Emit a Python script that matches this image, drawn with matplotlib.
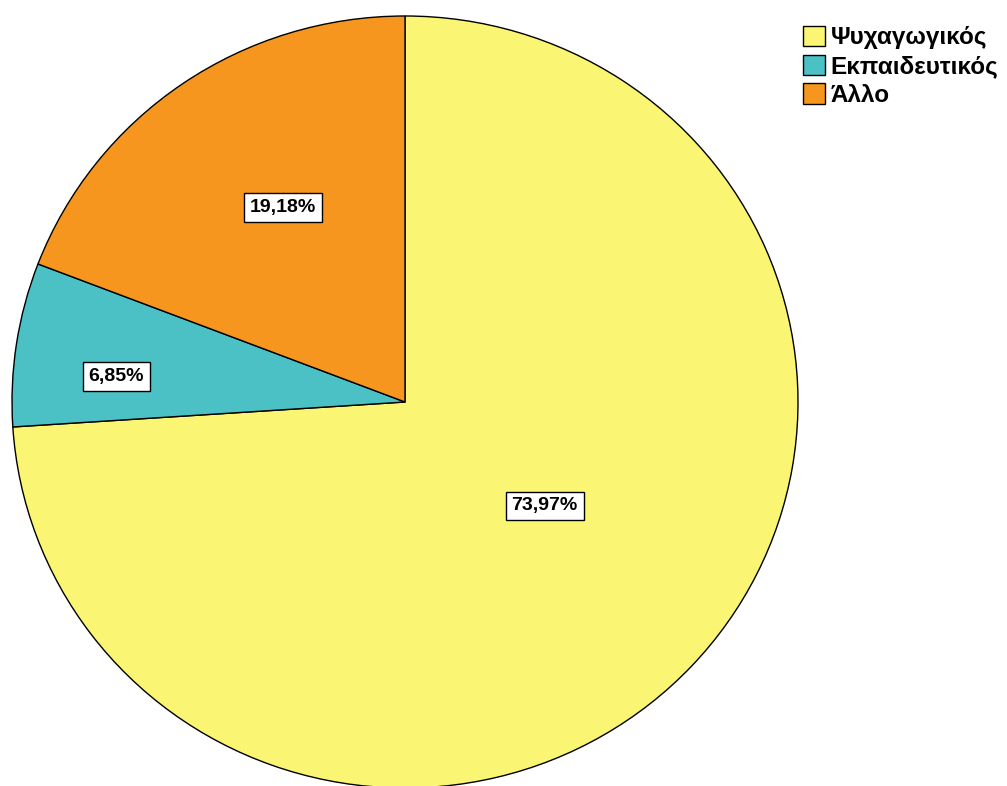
import matplotlib.pyplot as plt
import numpy as np

# categories and shares (%)
labels = ['Ψυχαγωγικός', 'Εκπαιδευτικός', 'Άλλο']
values = [73.97, 6.85, 19.18]
pct_text = ['73,97%', '6,85%', '19,18%']
colors = ['#FAF573', '#4BC0C5', '#F7961E']

# where the percent boxes sit: distance from centre and turn from the wedge middle (deg)
label_dist = [0.446, 0.738, 0.591]
label_turn = [6.0, 3.5, -2.9]

plt.rcParams['font.family'] = ['Liberation Sans', 'DejaVu Sans']

W, H = 1007, 786
fig = plt.figure(figsize=(W / 100, H / 100), dpi=100)
# pie slightly wider than tall, like the original
ax = fig.add_axes([12 / W, (H - 788) / H, 786 / W, 772 / H])

wedges, _ = ax.pie(values, colors=colors, startangle=90, counterclock=False,
                   wedgeprops=dict(edgecolor='black', linewidth=1.0))
ax.set_aspect('auto')
ax.set_xlim(-1, 1)
ax.set_ylim(-1, 1)
ax.axis('off')

# percent labels in white boxes
for w, txt, d, t in zip(wedges, pct_text, label_dist, label_turn):
    mid = np.deg2rad((w.theta1 + w.theta2) / 2 + t)
    ax.text(d * np.cos(mid), d * np.sin(mid), txt, ha='center', va='center',
            fontsize=14, fontweight='bold',
            bbox=dict(boxstyle='square,pad=0.3', facecolor='white',
                      edgecolor='black', linewidth=1.0))

fig.legend(wedges, labels, loc='upper left', bbox_to_anchor=(793 / W, 1 - 16 / H),
           frameon=False, prop=dict(size=17.5, weight='bold'),
           handlelength=0.9, handleheight=0.9, handletextpad=0.25,
           labelspacing=0.22, borderaxespad=0)

fig.savefig('out.png', dpi=100)
